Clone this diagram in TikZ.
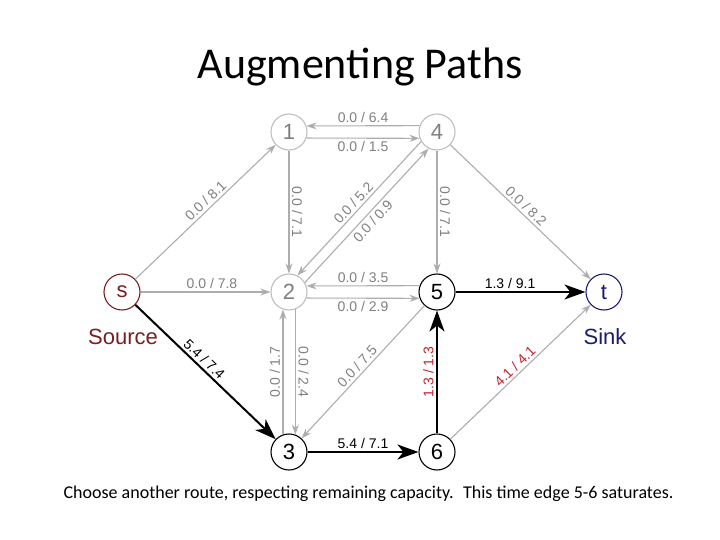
\documentclass[tikz,border=0pt]{standalone}
\usepackage{fontspec}
\setmainfont{Liberation Sans}
\newfontfamily\slidefont{Carlito}
\usetikzlibrary{arrows.meta}

\definecolor{edgegray}{HTML}{ADADAD}
\definecolor{labelgray}{HTML}{7F7F7F}
\definecolor{nodegray}{HTML}{BEBEBE}
\definecolor{srcred}{HTML}{7A1E22}
\definecolor{sinkblue}{HTML}{1C1C6E}
\definecolor{flowred}{HTML}{C4202B}

\begin{document}
\begin{tikzpicture}[x=1pt, y=-1pt,
  vtx/.style={circle, draw, line width=1.1pt, minimum size=36pt, inner sep=0pt,
    font=\fontsize{22}{22}\selectfont},
  idle/.style={vtx, draw=nodegray, text=labelgray},
  busy/.style={vtx, draw=black, text=black},
  graye/.style={draw=edgegray, line width=1.1pt, -{Stealth[length=10pt, width=7pt]}},
  flowe/.style={draw=black, line width=2pt, -{Stealth[length=21pt, width=15pt, inset=6pt]}},
  caplbl/.style={font=\fontsize{14}{14}\selectfont, text=labelgray, sloped, inner sep=2.5pt},
  capblk/.style={caplbl, text=black},
  capred/.style={caplbl, text=flowred},
  tag/.style={font=\fontsize{22}{22}\selectfont, inner sep=0pt}]
  \useasboundingbox (0,0) rectangle (720,540);

  % --- Titel und Unterschrift ---
  \node[anchor=base, inner sep=0pt, font=\slidefont\fontsize{44}{44}\selectfont]
    (title) at (360,79) {Augmenting Paths};
  \node[anchor=base, inner sep=0pt, font=\slidefont\fontsize{18}{18}\selectfont]
    (caption) at (368.5,498)
    {Choose another route, respecting remaining capacity.~ This time edge 5-6 saturates.};

  % --- Knoten ---
  \node[vtx, draw=srcred, text=srcred] (s) at (122,292) {s};
  \node[idle] (n1) at (289,132) {1};
  \node[idle] (n4) at (437,132) {4};
  \node[idle] (n2) at (289,292) {2};
  \node[busy] (n5) at (437,292) {5};
  \node[vtx, draw=sinkblue, text=sinkblue] (t) at (604,292) {t};
  \node[busy] (n3) at (289,452) {3};
  \node[busy] (n6) at (437,452) {6};

  \node[tag, text=srcred] (srclabel) at (123,337) {Source};
  \node[tag, text=sinkblue] (sinklabel) at (605,337) {Sink};

  % --- ungenutzte Kanten ---
  \draw[graye] (s) -- node[caplbl, above, pos=0.54] {0.0 / 8.1} (n1);
  \draw[graye] (s) -- node[caplbl, above, pos=0.55] {0.0 / 7.8} (n2);
  \draw[graye] (n1) -- node[caplbl, above] {0.0 / 7.1} (n2);
  \draw[graye] (n4.160.5) -- node[caplbl, above] {0.0 / 6.4} (n1.19.5);
  \draw[graye] (n1.-19.5) -- node[caplbl, below] {0.0 / 1.5} (n4.-160.5);
  \draw[graye] (n4.211.4) -- node[caplbl, above] {0.0 / 5.2} (n2.63.4);
  \draw[graye] (n2.31.4) -- node[caplbl, below] {0.0 / 0.9} (n4.243.4);
  \draw[graye] (n4) -- node[caplbl, above] {0.0 / 7.1} (n5);
  \draw[graye] (n4) -- node[caplbl, above] {0.0 / 8.2} (t);
  \draw[graye] (n5.160.5) -- node[caplbl, above] {0.0 / 3.5} (n2.19.5);
  \draw[graye] (n2.-19.5) -- node[caplbl, below] {0.0 / 2.9} (n5.-160.5);
  \draw[graye] (n3.109.5) -- node[caplbl, above] {0.0 / 1.7} (n2.-109.5);
  \draw[graye] (n2.-70.5) -- node[caplbl, above] {0.0 / 2.4} (n3.70.5);
  \draw[graye] (n5) -- node[caplbl, above] {0.0 / 7.5} (n3);
  \draw[graye] (n6) -- node[capred, above] {4.1 / 4.1} (t);

  % --- Fluss entlang des Pfades ---
  \draw[flowe] (s) -- node[capblk, above, pos=0.45] {5.4 / 7.4} (n3);
  \draw[flowe] (n3) -- node[capblk, above] {5.4 / 7.1} (n6);
  \draw[flowe] (n6) -- node[capred, above] {1.3 / 1.3} (n5);
  \draw[flowe] (n5) -- node[capblk, above, pos=0.42] {1.3 / 9.1} (t);
\end{tikzpicture}
\end{document}
